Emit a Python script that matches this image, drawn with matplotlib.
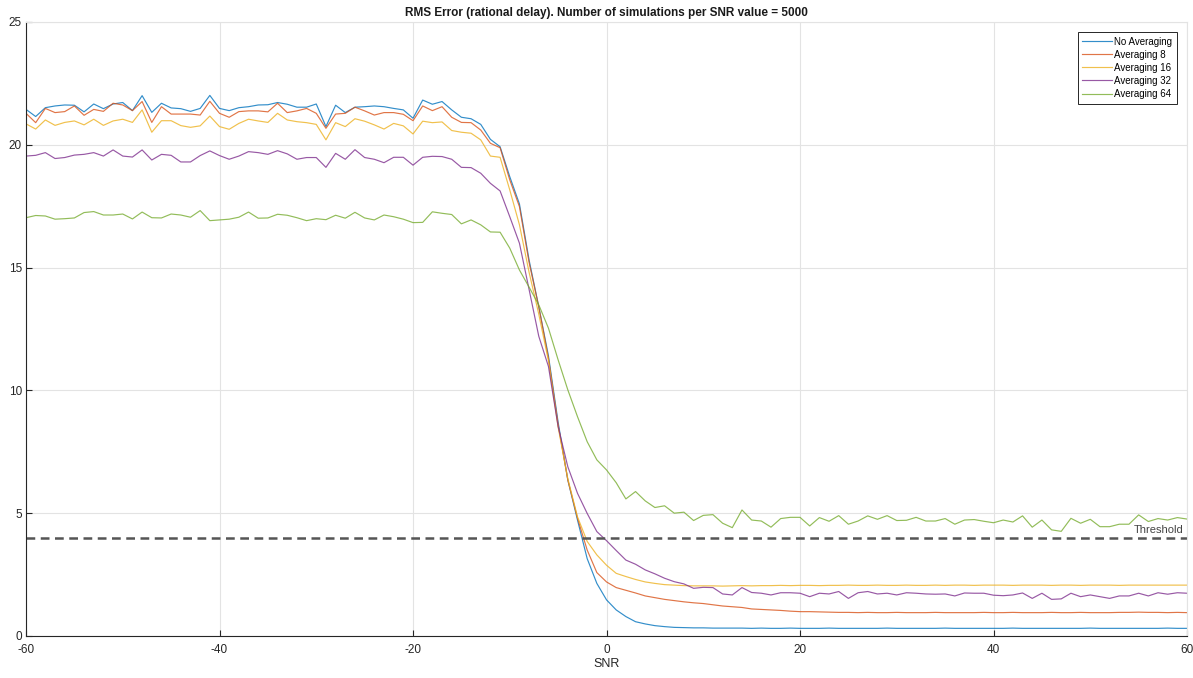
import matplotlib
matplotlib.use('Agg')
import matplotlib.pyplot as plt
import numpy as np

plt.rcParams['font.family'] = ['Liberation Sans', 'DejaVu Sans']
plt.rcParams['axes.unicode_minus'] = False

# SNR axis, 1 dB steps
snr = np.arange(-60, 61)

# One value per SNR point
no_avg = [
    21.44, 21.15, 21.51, 21.58, 21.62, 21.61, 21.34, 21.66, 21.47, 21.66,
    21.72, 21.39, 22.00, 21.32, 21.69, 21.50, 21.47, 21.36, 21.48, 22.01,
    21.48, 21.39, 21.51, 21.55, 21.62, 21.63, 21.72, 21.65, 21.53, 21.53,
    21.66, 20.74, 21.61, 21.31, 21.53, 21.55, 21.58, 21.55, 21.48, 21.42,
    21.08, 21.82, 21.65, 21.76, 21.42, 21.12, 21.06, 20.83, 20.22, 19.92,
    18.70, 17.59, 15.30, 13.40, 11.40, 8.70, 6.35, 4.72, 3.15, 2.14,
    1.47, 1.06, 0.79, 0.58, 0.49, 0.42, 0.38, 0.35, 0.34, 0.33,
    0.33, 0.32, 0.32, 0.32, 0.32, 0.31, 0.32, 0.31, 0.31, 0.32,
    0.31, 0.31, 0.31, 0.32, 0.31, 0.31, 0.31, 0.31, 0.31, 0.32,
    0.31, 0.31, 0.31, 0.31, 0.31, 0.32, 0.31, 0.31, 0.31, 0.31,
    0.31, 0.31, 0.32, 0.31, 0.31, 0.31, 0.31, 0.31, 0.31, 0.31,
    0.32, 0.31, 0.31, 0.31, 0.31, 0.31, 0.31, 0.31, 0.32, 0.31,
    0.31,
]
avg_8 = [
    21.28, 20.90, 21.48, 21.31, 21.35, 21.58, 21.20, 21.44, 21.36, 21.69,
    21.62, 21.39, 21.76, 20.91, 21.55, 21.25, 21.25, 21.25, 21.21, 21.77,
    21.28, 21.12, 21.35, 21.38, 21.38, 21.34, 21.69, 21.31, 21.38, 21.48,
    21.28, 20.67, 21.25, 21.28, 21.53, 21.38, 21.21, 21.31, 21.31, 21.24,
    20.98, 21.58, 21.39, 21.55, 21.12, 20.91, 20.90, 20.60, 20.06, 19.88,
    18.57, 17.48, 15.20, 13.40, 11.30, 8.60, 6.35, 4.80, 3.50, 2.58,
    2.20, 1.97, 1.86, 1.75, 1.63, 1.56, 1.49, 1.44, 1.39, 1.35,
    1.32, 1.27, 1.22, 1.19, 1.16, 1.10, 1.08, 1.06, 1.04, 1.01,
    0.99, 0.99, 0.98, 0.97, 0.96, 0.96, 0.95, 0.96, 0.95, 0.95,
    0.96, 0.95, 0.95, 0.95, 0.96, 0.95, 0.95, 0.95, 0.95, 0.96,
    0.95, 0.95, 0.96, 0.95, 0.95, 0.95, 0.96, 0.95, 0.95, 0.96,
    0.95, 0.95, 0.95, 0.96, 0.96, 0.97, 0.96, 0.96, 0.95, 0.96,
    0.95,
]
avg_16 = [
    20.85, 20.64, 21.01, 20.79, 20.91, 20.97, 20.81, 21.04, 20.79, 20.97,
    21.04, 20.91, 21.42, 20.51, 20.98, 20.98, 20.78, 20.71, 20.77, 21.17,
    20.74, 20.63, 20.87, 21.04, 20.97, 20.91, 21.28, 21.01, 20.94, 20.90,
    20.83, 20.20, 20.90, 20.74, 21.06, 20.96, 20.81, 20.64, 20.87, 20.77,
    20.44, 20.96, 20.90, 20.93, 20.58, 20.51, 20.47, 20.20, 19.54, 19.49,
    18.16, 16.74, 14.80, 13.10, 11.20, 8.50, 6.40, 4.85, 3.85, 3.30,
    2.88, 2.55, 2.42, 2.30, 2.20, 2.14, 2.09, 2.07, 2.05, 2.04,
    2.04, 2.04, 2.03, 2.04, 2.05, 2.04, 2.05, 2.05, 2.06, 2.05,
    2.06, 2.06, 2.05, 2.06, 2.06, 2.07, 2.06, 2.06, 2.07, 2.06,
    2.06, 2.07, 2.06, 2.06, 2.07, 2.06, 2.07, 2.07, 2.06, 2.07,
    2.07, 2.07, 2.06, 2.07, 2.07, 2.07, 2.06, 2.07, 2.07, 2.06,
    2.07, 2.07, 2.07, 2.06, 2.07, 2.07, 2.07, 2.07, 2.07, 2.07,
    2.07,
]
avg_32 = [
    19.54, 19.57, 19.68, 19.44, 19.48, 19.58, 19.61, 19.68, 19.54, 19.79,
    19.54, 19.50, 19.79, 19.38, 19.61, 19.57, 19.30, 19.30, 19.56, 19.75,
    19.56, 19.41, 19.54, 19.72, 19.68, 19.61, 19.76, 19.63, 19.41, 19.48,
    19.48, 19.08, 19.65, 19.41, 19.80, 19.48, 19.41, 19.27, 19.49, 19.49,
    19.17, 19.49, 19.53, 19.52, 19.41, 19.08, 19.07, 18.84, 18.43, 18.12,
    17.07, 15.99, 14.10, 12.20, 10.97, 8.52, 6.89, 5.81, 4.99, 4.25,
    3.88, 3.48, 3.09, 2.92, 2.69, 2.53, 2.35, 2.21, 2.12, 1.94,
    1.98, 1.97, 1.71, 1.67, 1.97, 1.77, 1.74, 1.67, 1.76, 1.76,
    1.74, 1.60, 1.74, 1.71, 1.81, 1.53, 1.76, 1.81, 1.71, 1.74,
    1.67, 1.76, 1.74, 1.71, 1.70, 1.71, 1.63, 1.75, 1.74, 1.74,
    1.66, 1.64, 1.67, 1.75, 1.53, 1.74, 1.49, 1.51, 1.74, 1.60,
    1.67, 1.60, 1.53, 1.63, 1.63, 1.74, 1.63, 1.76, 1.70, 1.76,
    1.74,
]
avg_64 = [
    17.03, 17.12, 17.10, 16.97, 16.99, 17.02, 17.24, 17.28, 17.14, 17.14,
    17.18, 16.98, 17.26, 17.03, 17.02, 17.18, 17.14, 17.05, 17.32, 16.91,
    16.94, 16.97, 17.05, 17.26, 17.01, 17.02, 17.17, 17.13, 17.03, 16.91,
    16.99, 16.95, 17.13, 17.01, 17.25, 17.02, 16.94, 17.14, 17.07, 16.97,
    16.83, 16.84, 17.27, 17.21, 17.16, 16.78, 16.94, 16.74, 16.45, 16.44,
    15.79, 14.90, 14.20, 13.48, 12.53, 11.24, 10.02, 8.93, 7.91, 7.17,
    6.76, 6.24, 5.58, 5.88, 5.50, 5.23, 5.30, 5.00, 5.04, 4.70,
    4.91, 4.94, 4.59, 4.41, 5.13, 4.72, 4.68, 4.43, 4.78, 4.83,
    4.83, 4.48, 4.82, 4.67, 4.90, 4.55, 4.68, 4.89, 4.75, 4.90,
    4.70, 4.71, 4.83, 4.68, 4.68, 4.78, 4.55, 4.72, 4.74, 4.67,
    4.61, 4.72, 4.64, 4.89, 4.43, 4.72, 4.32, 4.26, 4.79, 4.59,
    4.75, 4.45, 4.45, 4.55, 4.55, 4.93, 4.66, 4.78, 4.72, 4.82,
    4.76,
]

series = [no_avg, avg_8, avg_16, avg_32, avg_64]
labels = ['No Averaging', 'Averaging 8', 'Averaging 16', 'Averaging 32', 'Averaging 64']
colors = ['#0072BD', '#D95319', '#EDB120', '#7E2F8E', '#77AC30']
threshold = 4.0

fig = plt.figure(figsize=(11.93, 6.78), dpi=100)
ax = fig.add_axes([0.0218, 0.062, 0.9732, 0.9056])

for vals, lab, col in zip(series, labels, colors):
    ax.plot(snr, vals, color=col, lw=0.85, alpha=0.8, label=lab)

ax.axhline(threshold, color='#555555', lw=1.8, ls=(0, (3.5, 2.2)))
ax.text(59.6, threshold + 0.12, 'Threshold', ha='right', va='bottom',
        fontsize=8, color='#444444')

ax.set_xlim(-60, 60)
ax.set_ylim(0, 25)
ax.set_xticks(np.arange(-60, 61, 20))
ax.set_yticks(np.arange(0, 26, 5))
ax.grid(True, color='#e3e3e3', lw=0.8)
ax.set_axisbelow(True)
ax.tick_params(direction='in', length=4, width=0.8, labelsize=8.5,
               colors='#262626')
ax.tick_params(axis='x', pad=6)
ax.tick_params(axis='y', pad=3)
for side in ['left', 'bottom']:
    ax.spines[side].set_color('#262626')
    ax.spines[side].set_linewidth(0.8)
for side in ['top', 'right']:
    ax.spines[side].set_color('#e3e3e3')

ax.set_xlabel('SNR', fontsize=9, color='#262626', labelpad=1)
ax.set_title('RMS Error (rational delay). Number of simulations per SNR value = 5000',
             fontsize=8.5, fontweight='bold', color='#1a1a1a', pad=4)

leg = ax.legend(loc='upper right', fontsize=7, frameon=True, fancybox=False,
                handlelength=3.0, borderpad=0.5, labelspacing=0.32,
                handletextpad=0.3, borderaxespad=1.0, framealpha=1)
leg.get_frame().set_edgecolor('#262626')
leg.get_frame().set_linewidth(0.7)

fig.savefig('out.png', dpi=100)
